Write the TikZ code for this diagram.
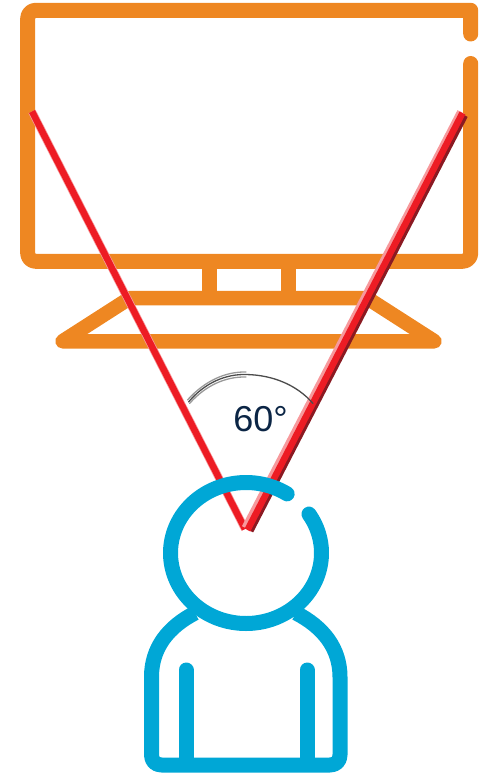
\documentclass[tikz,border=0pt]{standalone}
\usepackage{fontspec}
\setmainfont{Liberation Sans}
\definecolor{tvorange}{HTML}{EE8722}
\definecolor{headblue}{HTML}{00A7D6}
\definecolor{rayred}{HTML}{ED1C24}
\definecolor{raydark}{HTML}{8A1A22}
\definecolor{labelnavy}{HTML}{0B2545}
\tikzset{
  tvline/.style={draw=tvorange,line width=15pt,line cap=round,line join=round},
  personline/.style={draw=headblue,line width=15pt,line cap=round,line join=round},
  rayline/.style={draw=rayred,line width=6.5pt},
  rayshadow/.style={draw=raydark,line width=6pt},
  rayhalo/.style={draw=rayred!45,line width=8pt},
  anglearc/.style={draw=black!70,line width=1.3pt,line cap=round},
  anglearcsoft/.style={draw=black!40,line width=1.3pt,line cap=round}
}
\begin{document}
\begin{tikzpicture}[x=1pt,y=-1pt]
\useasboundingbox (0,0) rectangle (485,773);
% monitor
\draw[tvline] (470.7,34) -- (470.7,10.3) [rounded corners=8pt] -- (27.7,10.3) -- (27.7,261.3) -- (470.7,261.3) [sharp corners] -- (470.7,63.5);
\draw[tvline,line cap=butt] (209,261) -- (209,298);
\draw[tvline,line cap=butt] (288,261) -- (288,298);
\draw[draw=tvorange,line width=14.5pt,line join=round] (62.5,341.3) -- (130,298) -- (367,298) -- (434.5,341.3) -- cycle;
% rays
\draw[rayhalo] (32,111.5) -- (245,529);
\draw[rayline] (32,111.5) -- (245,529);
\draw[rayshadow] (465,115.5) -- (250.5,531);
\draw[rayhalo] (461,112) -- (245.5,528);
\draw[rayline] (462.5,113) -- (247.5,530);
% angle arc
\draw[anglearcsoft] (187.5,400) .. controls (205,380.5) and (226,371.5) .. (246,372);
\draw[anglearcsoft] (189.5,403.5) .. controls (206,385) and (226,376.5) .. (246,377);
\draw[anglearc] (188.5,402) .. controls (205,382.5) and (226,374) .. (246,374.5) .. controls (273,375) and (297,385) .. (313,403.5);
\node[text=labelnavy,font=\fontsize{36}{40}\selectfont,inner sep=0pt] (anglelabel) at (260.5,419) {60°};
% person
\draw[personline] plot[domain=57:393.5,samples=140,smooth] ({246+75.5*cos(\x)},{553-70.5*sin(\x)});
\draw[personline,line cap=butt] (195,613) .. controls (168,627) and (151.5,648) .. (151.5,677) -- (151.5,755) .. controls (151.5,761) and (155.5,765) .. (161.5,765) -- (330,765) .. controls (336,765) and (340,761) .. (340,755) -- (340,677) .. controls (340,648) and (323,627) .. (296,613);
\draw[personline] (186,670) -- (186,762);
\draw[personline] (307,670) -- (307,762);
\end{tikzpicture}
\end{document}
